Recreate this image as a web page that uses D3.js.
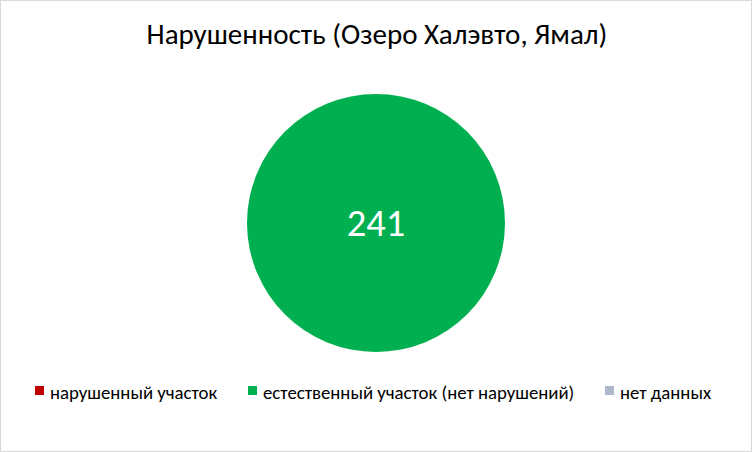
<!DOCTYPE html>
<html><head><meta charset="utf-8">
<script src="https://cdn.jsdelivr.net/npm/d3@7"></script>
<style>body{margin:0;background:#fff}svg{display:block}text{font-family:Carlito,Calibri,"Liberation Sans Narrow","Open Sans",sans-serif}</style>
</head><body>
<script>
const title = "Нарушенность (Озеро Халэвто, Ямал)";
const categories = ["нарушенный участок", "естественный участок (нет нарушений)", "нет данных"];
const values = [0, 241, 0];
const colors = ["#C00000", "#00B050", "#ADB9CA"];

const W = 752, H = 452;
const svg = d3.select("body").append("svg").attr("width", W).attr("height", H);
svg.append("rect").attr("x", 0.5).attr("y", 0.5).attr("width", W - 1).attr("height", H - 1)
  .attr("fill", "#fff").attr("stroke", "#D9D9D9");

svg.append("text").attr("x", 377).attr("y", 44).attr("text-anchor", "middle")
  .attr("font-size", 29).attr("fill", "#000").text(title);

const data = categories.map((c, i) => ({c, v: values[i], col: colors[i]}));
const pie = d3.pie().sort(null).value(d => d.v);
const r = 129;
const arc = d3.arc().innerRadius(0).outerRadius(r);
const g = svg.append("g").attr("transform", "translate(376,223)");
const arcs = pie(data).filter(d => d.data.v > 0);
g.selectAll("path").data(arcs).join("path").attr("d", arc).attr("fill", d => d.data.col);
g.selectAll("text.lbl").data(arcs).join("text").attr("class", "lbl")
  .attr("transform", d => arcs.length === 1 ? "translate(0,0)" : `translate(${arc.centroid(d)})`)
  .attr("text-anchor", "middle").attr("y", 13).attr("font-size", 38.5).attr("fill", "#fff")
  .text(d => d.data.v);

const legX = [35, 248, 605];
const lg = svg.append("g");
data.forEach((d, i) => {
  lg.append("rect").attr("x", legX[i]).attr("y", 386).attr("width", 9).attr("height", 9).attr("fill", d.col);
  lg.append("text").attr("x", legX[i] + 15).attr("y", 398.5).attr("font-size", 18.8).attr("fill", "#000").text(d.c);
});
</script>
</body></html>
